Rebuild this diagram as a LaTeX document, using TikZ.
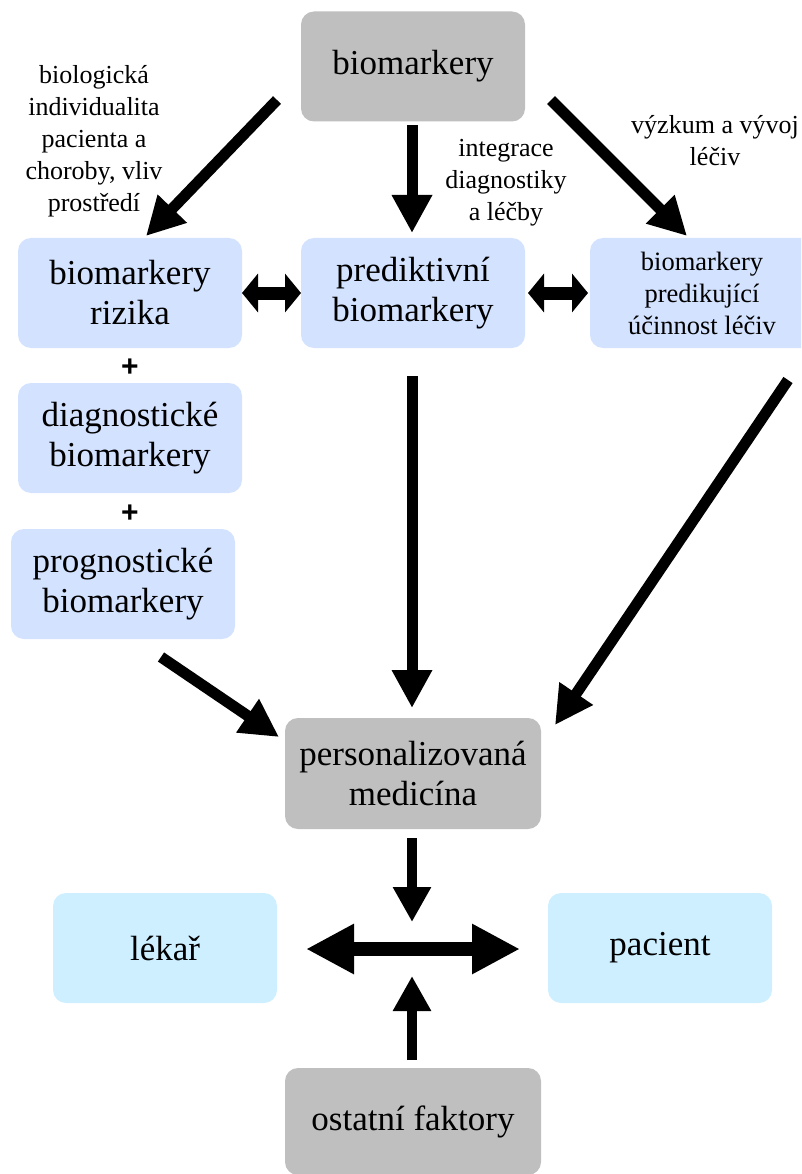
\documentclass[tikz,border=0pt]{standalone}
\usepackage{fontspec}
\setmainfont{LiberationSerif}[Extension=.ttf, UprightFont=*-Regular, BoldFont=*-Bold, ItalicFont=*-Italic, BoldItalicFont=*-BoldItalic]
\newfontfamily\plusfont{LiberationSans}[Extension=.ttf, UprightFont=*-Regular, BoldFont=*-Bold]
\usetikzlibrary{arrows.meta}
\definecolor{boxgray}{HTML}{BFBFBF}
\definecolor{boxblue}{HTML}{D3E2FE}
\definecolor{boxcyan}{HTML}{CDEFFF}
\tikzset{
  box/.style={rounded corners=13pt, inner sep=0pt, align=center,
    minimum width=224pt, minimum height=110pt,
    font=\fontsize{35}{40}\selectfont},
  graybox/.style={box, fill=boxgray},
  bluebox/.style={box, fill=boxblue},
  cyanbox/.style={box, fill=boxcyan},
  lbl/.style={align=center, inner sep=0pt, font=\fontsize{26}{32}\selectfont},
  plus/.style={inner sep=0pt, font=\plusfont\bfseries\fontsize{30}{30}\selectfont},
  arr/.style={line width=11pt, -{Triangle[length=38pt,width=38pt]}},
  arrs/.style={line width=9.5pt, -{Triangle[length=35pt,width=36pt]}},
  dblsmall/.style={line width=13pt, {Triangle[length=16pt,width=38pt]}-{Triangle[length=16pt,width=38pt]}},
  dblbig/.style={line width=14pt, {Triangle[length=48pt,width=47pt]}-{Triangle[length=48pt,width=47pt]}}
}
\begin{document}
\begin{tikzpicture}[x=1pt,y=-1pt]
\useasboundingbox (0,0) rectangle (801,1174);
\clip (0,0) rectangle (801,1174);
% boxes
\node[graybox] (top) at (413,66.5) {biomarkery};
\node[bluebox] (riz) at (130,293) {biomarkery\\rizika};
\node[bluebox] (pred) at (413,293) {prediktivní\\biomarkery};
\node[bluebox, font=\fontsize{26.5}{32}\selectfont] (ucin) at (702,293) {biomarkery\\predikující\\účinnost léčiv};
\node[bluebox] (diag) at (130,438) {diagnostické\\biomarkery};
\node[bluebox] (prog) at (123,584) {prognostické\\biomarkery};
\node[graybox, minimum width=256pt, minimum height=111pt] (pers) at (413,773.5) {personalizovaná\\medicína};
\node[cyanbox] (lekar) at (165,948) {lékař};
\node[cyanbox] (pac) at (660,948) {pacient};
\node[graybox, minimum width=256pt, minimum height=107pt] (ost) at (413,1121.5) {ostatní faktory};
% plus signs
\node[plus] (p1) at (130,368) {+};
\node[plus] (p2) at (130,514) {+};
% labels
\node[lbl] (l1) at (94,141) {biologická\\individualita\\pacienta a\\choroby, vliv\\prostředí};
\node[lbl] (l2) at (506,183) {integrace\\diagnostiky\\a léčby};
\node[lbl] (l3) at (715,141) {výzkum a vývoj\\léčiv};
% arrow end coordinates
\coordinate (a1s) at (277,100);  \coordinate (a1e) at (146,236);
\coordinate (a2s) at (412,125);  \coordinate (a2e) at (412,233);
\coordinate (a3s) at (551,100);  \coordinate (a3e) at (687,236);
\coordinate (d1s) at (242,293);  \coordinate (d1e) at (301,293);
\coordinate (d2s) at (528,293);  \coordinate (d2e) at (588,293);
\coordinate (a4s) at (412,376);  \coordinate (a4e) at (412,708);
\coordinate (a5s) at (788,380);  \coordinate (a5e) at (555,725);
\coordinate (a6s) at (161,657);  \coordinate (a6e) at (279,737);
\coordinate (a7s) at (412,838);  \coordinate (a7e) at (412,922);
\coordinate (d3s) at (306,949);  \coordinate (d3e) at (520,949);
\coordinate (a8s) at (412,1060); \coordinate (a8e) at (412,976);
% arrows
\draw[arr] (a1s) -- (a1e);
\draw[arr] (a2s) -- (a2e);
\draw[arr] (a3s) -- (a3e);
\draw[dblsmall] (d1s) -- (d1e);
\draw[dblsmall] (d2s) -- (d2e);
\draw[arr] (a4s) -- (a4e);
\draw[arr] (a5s) -- (a5e);
\draw[arr] (a6s) -- (a6e);
\draw[arrs] (a7s) -- (a7e);
\draw[dblbig] (d3s) -- (d3e);
\draw[arrs] (a8s) -- (a8e);
\end{tikzpicture}
\end{document}
